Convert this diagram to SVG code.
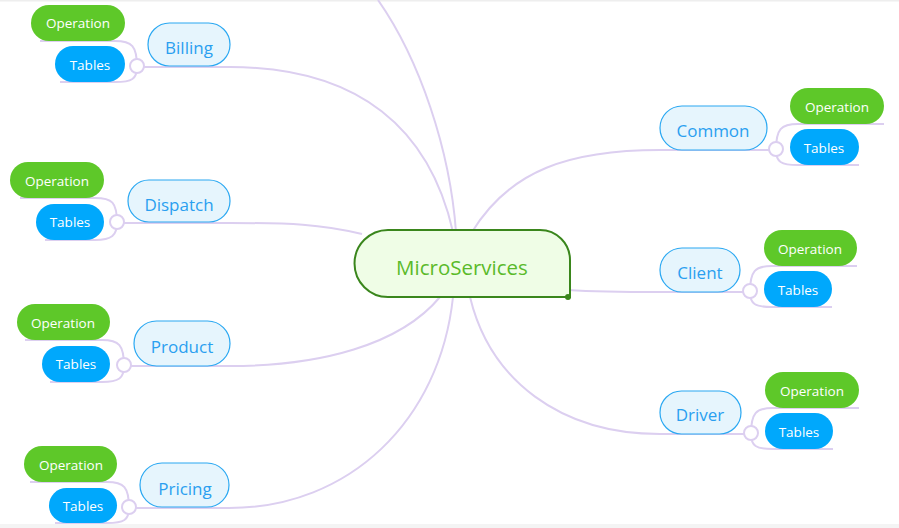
<svg xmlns="http://www.w3.org/2000/svg" width="899" height="528" viewBox="0 0 899 528">
<style>
.ln{fill:none;stroke:#dccff0;stroke-width:2}
.jn{fill:#fff;stroke:#dccff0;stroke-width:2}
.sec rect{fill:#e6f5fd;stroke:#2aa8f2;stroke-width:1.2}
.sec text{fill:#2a9ff0;font-family:"Open Sans","Noto Sans",sans-serif;font-size:17px;text-anchor:middle}
.op rect{fill:#5ec829}
.tb rect{fill:#00a8fc}
.op text,.tb text{fill:#fff;font-family:"Open Sans","Noto Sans",sans-serif;font-size:13.5px;text-anchor:middle}
</style>
<rect x="0" y="0" width="899" height="528" fill="#fff"/>
<rect x="0" y="0" width="899" height="1.5" fill="#eeeeee"/>
<rect x="0" y="524" width="899" height="4" fill="#f4f4f4"/>
<g id="connectors">
<path class="ln" d="M378,0 C420,60 450,150 456,232"/>
<path class="ln" d="M453,232 C430,130 360,67 230,67 L137,67"/>
<path class="ln" d="M362,234 C320,224 290,223 230,223 L117,223"/>
<path class="ln" d="M440,297 C400,345 320,366 230,366 L124,366"/>
<path class="ln" d="M453,297 C440,420 350,508 229,508 L129,508"/>
<path class="ln" d="M472,232 C510,170 570,150 660,150 L776,150"/>
<path class="ln" d="M568,290 C600,292 630,292 660,292 L750,292"/>
<path class="ln" d="M470,297 C490,380 560,434 660,434 L751,434"/>
<path class="ln" d="M137,67 C137,46 132,41 115,41 L40,41 M137,67 C137,79 132,82 115,82 L60,82"/>
<path class="ln" d="M117,223 C117,202 112,198 95,198 L20,198 M117,223 C117,235 112,240 95,240 L45,240"/>
<path class="ln" d="M124,366 C124,345 119,340 102,340 L25,340 M124,366 C124,378 119,382 102,382 L50,382"/>
<path class="ln" d="M129,508 C129,487 124,482 107,482 L30,482 M129,508 C129,520 124,523 107,523 L55,523"/>
<path class="ln" d="M776,150 C776,129 781,124 798,124 L884,124 M776,150 C776,162 781,165 798,165 L859,165"/>
<path class="ln" d="M750,292 C750,271 755,266 772,266 L857,266 M750,292 C750,304 755,307 772,307 L832,307"/>
<path class="ln" d="M751,434 C751,413 756,408 773,408 L859,408 M751,434 C751,446 756,449 773,449 L833,449"/>
<circle class="jn" cx="137" cy="66" r="7"/>
<circle class="jn" cx="117" cy="222" r="7"/>
<circle class="jn" cx="124" cy="365" r="7"/>
<circle class="jn" cx="129" cy="507" r="7"/>
<circle class="jn" cx="776" cy="149" r="7"/>
<circle class="jn" cx="750" cy="291" r="7"/>
<circle class="jn" cx="751" cy="433" r="7"/>
</g>
<g id="center">
<path d="M388,230 H540 A30,30 0 0 1 570,260 V297 H388 A33.5,33.5 0 0 1 388,230 Z" fill="#effde6" stroke="#3a861c" stroke-width="2"/>
<circle cx="568" cy="297" r="3" fill="#3a861c"/>
<text x="462" y="275" font-family="Open Sans,Noto Sans,sans-serif" font-size="20.5" fill="#5aba2a" text-anchor="middle">MicroServices</text>
</g>
<g id="billing" class="sec"><rect x="148" y="23" width="82" height="43" rx="21.5"/><text x="189" y="54">Billing</text></g>
<g id="billing-op" class="op"><rect x="31" y="5" width="94" height="36" rx="18"/><text x="78" y="28">Operation</text></g>
<g id="billing-tb" class="tb"><rect x="55" y="46" width="70" height="36" rx="18"/><text x="90" y="70">Tables</text></g>
<g id="dispatch" class="sec"><rect x="128" y="180" width="102" height="42" rx="21"/><text x="179" y="211">Dispatch</text></g>
<g id="dispatch-op" class="op"><rect x="10" y="162" width="94" height="36" rx="18"/><text x="57" y="186">Operation</text></g>
<g id="dispatch-tb" class="tb"><rect x="36" y="204" width="68" height="36" rx="18"/><text x="70" y="227">Tables</text></g>
<g id="product" class="sec"><rect x="134" y="321" width="96" height="45" rx="22.5"/><text x="182" y="353">Product</text></g>
<g id="product-op" class="op"><rect x="17" y="304" width="93" height="36" rx="18"/><text x="63" y="328">Operation</text></g>
<g id="product-tb" class="tb"><rect x="42" y="346" width="68" height="36" rx="18"/><text x="76" y="369">Tables</text></g>
<g id="pricing" class="sec"><rect x="140" y="463" width="89" height="44" rx="22"/><text x="185" y="495">Pricing</text></g>
<g id="pricing-op" class="op"><rect x="24" y="446" width="93" height="36" rx="18"/><text x="71" y="470">Operation</text></g>
<g id="pricing-tb" class="tb"><rect x="49" y="488" width="68" height="35" rx="17.5"/><text x="83" y="511">Tables</text></g>
<g id="common" class="sec"><rect x="660" y="106" width="107" height="44" rx="22"/><text x="713" y="137">Common</text></g>
<g id="common-op" class="op"><rect x="790" y="88" width="94" height="36" rx="18"/><text x="837" y="112">Operation</text></g>
<g id="common-tb" class="tb"><rect x="790" y="129" width="69" height="36" rx="18"/><text x="824" y="153">Tables</text></g>
<g id="client" class="sec"><rect x="660" y="248" width="80" height="44" rx="22"/><text x="700" y="279">Client</text></g>
<g id="client-op" class="op"><rect x="764" y="230" width="93" height="36" rx="18"/><text x="810" y="254">Operation</text></g>
<g id="client-tb" class="tb"><rect x="764" y="271" width="68" height="36" rx="18"/><text x="798" y="295">Tables</text></g>
<g id="driver" class="sec"><rect x="660" y="391" width="81" height="43" rx="21.5"/><text x="700" y="421">Driver</text></g>
<g id="driver-op" class="op"><rect x="765" y="372" width="94" height="36" rx="18"/><text x="812" y="396">Operation</text></g>
<g id="driver-tb" class="tb"><rect x="765" y="413" width="68" height="36" rx="18"/><text x="799" y="437">Tables</text></g>
</svg>
